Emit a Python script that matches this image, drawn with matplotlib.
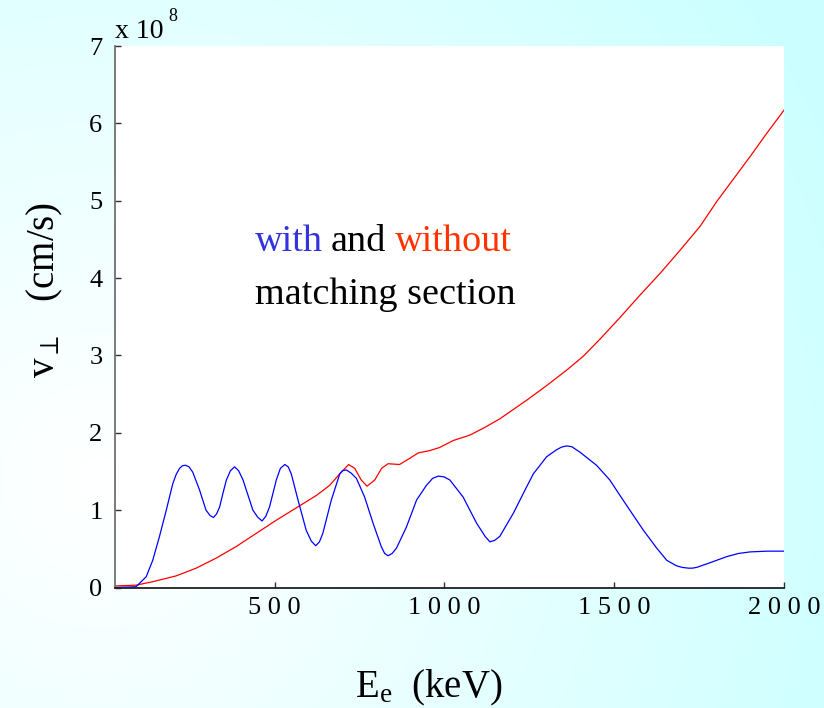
import numpy as np
import matplotlib.pyplot as plt
from matplotlib.ticker import FuncFormatter

plt.rcParams['font.family'] = ['Liberation Serif', 'DejaVu Serif']
plt.rcParams['mathtext.fontset'] = 'custom'
plt.rcParams['mathtext.rm'] = 'Liberation Serif'
plt.rcParams['mathtext.it'] = 'Liberation Serif:italic'

# electron energy (keV) and perpendicular velocity (x 1e8 cm/s)
e_with = [30, 92, 122, 141, 161, 181, 200, 210, 220, 229, 238, 248, 259, 279, 298,
          310, 320, 329, 338, 348, 358, 370, 382, 394, 407, 436, 450, 463, 474, 485,
          505, 517, 530, 540, 549, 569, 593, 608, 621, 632, 642, 667, 692, 700, 711,
          725, 741, 765, 790, 814, 824, 834, 846, 859, 888, 918, 947, 965, 982, 999,
          1016, 1055, 1095, 1120, 1134, 1148, 1163, 1203, 1242, 1262, 1301, 1330,
          1345, 1360, 1375, 1399, 1448, 1487, 1517, 1546, 1586, 1625, 1655, 1684,
          1700, 1719, 1730, 1743, 1782, 1832, 1866, 1900, 1950, 2000]
v_with = [0.0, 0.01, 0.14, 0.35, 0.66, 1.0, 1.34, 1.46, 1.54, 1.575, 1.58, 1.56,
          1.49, 1.26, 1.0, 0.93, 0.905, 0.95, 1.04, 1.22, 1.39, 1.51, 1.56, 1.51,
          1.39, 1.0, 0.91, 0.86, 0.92, 1.04, 1.39, 1.54, 1.59, 1.56, 1.47, 1.13,
          0.74, 0.60, 0.54, 0.59, 0.70, 1.13, 1.47, 1.51, 1.52, 1.48, 1.41, 1.17,
          0.83, 0.53, 0.44, 0.41, 0.44, 0.51, 0.78, 1.13, 1.32, 1.41, 1.44, 1.43,
          1.39, 1.17, 0.83, 0.66, 0.59, 0.61, 0.66, 0.96, 1.30, 1.47, 1.69, 1.78,
          1.815, 1.83, 1.82, 1.75, 1.58, 1.39, 1.19, 1.0, 0.74, 0.51, 0.35, 0.28,
          0.26, 0.25, 0.25, 0.26, 0.32, 0.40, 0.44, 0.46, 0.47, 0.47]

e_without = [30, 92, 141, 210, 269, 328, 387, 446, 505, 564, 623, 662, 692, 718, 736,
             755, 772, 795, 815, 834, 868, 898, 923, 957, 986, 1026, 1075, 1115, 1163,
             1242, 1301, 1360, 1409, 1458, 1517, 1576, 1635, 1694, 1753, 1802, 1851,
             1900, 1949, 2000]
v_without = [0.02, 0.03, 0.075, 0.15, 0.25, 0.38, 0.53, 0.70, 0.87, 1.03, 1.19, 1.32,
             1.47, 1.59, 1.54, 1.39, 1.31, 1.39, 1.54, 1.60, 1.59, 1.67, 1.74, 1.77,
             1.81, 1.90, 1.97, 2.06, 2.18, 2.42, 2.61, 2.81, 2.99, 3.21, 3.49, 3.78,
             4.06, 4.36, 4.67, 4.99, 5.28, 5.57, 5.87, 6.17]

x_ticks = [500, 1000, 1500, 2000]
y_ticks = [0, 1, 2, 3, 4, 5, 6, 7]

W, H = 824, 708
fig = plt.figure(figsize=(W / 100, H / 100), dpi=100)

# light cyan background, whiter towards the lower left
bg = fig.add_axes([0, 0, 1, 1], zorder=-1)
yy, xx = np.mgrid[0:H, 0:W]
d = np.hypot(xx - 100, yy - 480) / 800.0
t = np.clip(d, 0, 1) ** 1.1
grad = np.ones((H, W, 3))
grad[..., 0] = 1 - 0.2 * t
bg.imshow(grad, extent=[0, 1, 0, 1], aspect='auto', origin='upper')
bg.axis('off')

ax = fig.add_axes([115 / W, 1 - 587.5 / H, (784 - 115) / W, (587.5 - 46) / H])
ax.set_facecolor('white')
ax.plot(e_without, v_without, color='#ff0000', lw=0.9)
ax.plot(e_with, v_with, color='#0000ff', lw=0.9)

ax.set_xlim(30, 2000)
ax.set_ylim(0, 7)
ax.set_xticks(x_ticks)
ax.set_yticks(y_ticks)
ax.xaxis.set_major_formatter(FuncFormatter(lambda v, p: ' '.join(str(int(v)))))
ax.yaxis.set_major_formatter(FuncFormatter(lambda v, p: str(int(v))))

for s in ['top', 'right']:
    ax.spines[s].set_visible(False)
ax.spines['left'].set_color('#707070')
ax.spines['left'].set_linewidth(1.3)
ax.spines['bottom'].set_color('#202020')
ax.spines['bottom'].set_linewidth(1.3)
ax.tick_params(axis='both', direction='in', length=4, width=1, labelsize=19)
ax.tick_params(axis='x', pad=7, colors='#303030', labelcolor='black')
ax.tick_params(axis='y', pad=9, colors='#303030', labelcolor='black')

# scale factor label
fig.text(115 / W, 1 - 38 / H, 'x 10', fontsize=20, va='baseline')
fig.text(168 / W, 1 - 21 / H, '8', fontsize=13, va='baseline')

fig.text(45 / W, 1 - 290 / H, r'$\mathrm{v}_{\perp}$   (cm/s)', rotation=90,
         fontsize=28, ha='center', va='center')
fig.text(429 / W, 1 - 697 / H, r'$\mathrm{E}_{\mathrm{e}}$  (keV)',
         fontsize=28, ha='center', va='baseline')

t1 = ax.text(441, 4.35, 'with', color='#3333dd', fontsize=27.5, va='baseline')
t2 = ax.annotate('and', xy=(1, 0), xycoords=t1, xytext=(6, 0),
                 textcoords='offset points', fontsize=27.5, va='bottom', color='black')
ax.annotate('without', xy=(1, 0), xycoords=t2, xytext=(6, 0),
            textcoords='offset points', fontsize=27.5, va='bottom', color='#ff3300')
ax.text(441, 3.67, 'matching section', color='black', fontsize=27.5, va='baseline')

fig.savefig('out.png', dpi=100)
